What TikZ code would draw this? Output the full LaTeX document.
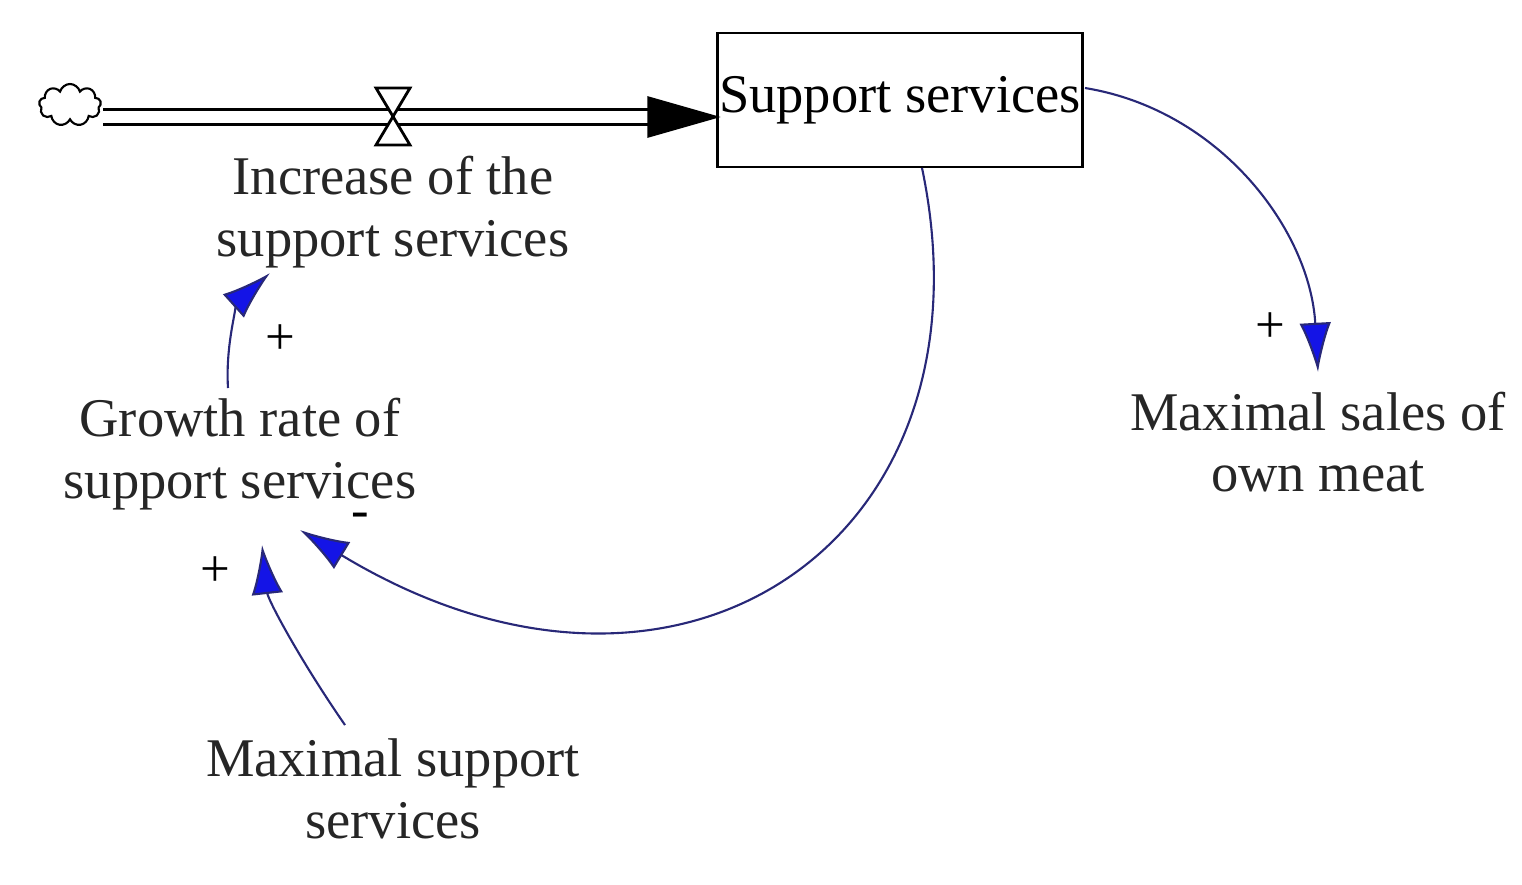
\documentclass[tikz,border=0pt]{standalone}
\usepackage{fontspec}
\setmainfont{Liberation Serif}
\usetikzlibrary{arrows.meta,shapes.symbols}
\definecolor{lnk}{RGB}{40,40,120}
\definecolor{tip}{RGB}{20,20,230}
\begin{document}
\begin{tikzpicture}[x=0.01cm,y=-0.01cm,
  lbl/.style={font=\fontsize{15.5}{17.5}\selectfont,align=center,text=black!85},
  link/.style={draw=lnk,line width=0.6pt,-{Latex[length=14pt,width=9pt,fill=tip]}},
  sgn/.style={font=\fontsize{15}{15}\selectfont}]
\useasboundingbox (0,0) rectangle (1522,884);
\node[draw,line width=0.8pt,minimum width=3.65cm,minimum height=1.34cm,inner sep=0,font=\fontsize{15.5}{17.5}\selectfont] (box) at (900,100) {Support services};
\node[cloud,draw,cloud puffs=9,minimum width=0.62cm,minimum height=0.42cm,inner sep=0,line width=0.6pt] (cl) at (70,105) {};
\coordinate (p0) at (103,117);
\coordinate (v) at (393,117);
\draw[line width=0.8pt,double distance=3.5pt] (p0) -- (650,117);
\draw[fill=black] (648,97) -- (718,117) -- (648,137) -- cycle;
\draw[fill=white,line width=0.8pt] (376,88) -- (410,88) -- (376,145) -- (410,145) -- cycle;
\node[lbl] (inc) at (393,212) {Increase of the\\support services};
\node[lbl] (gr) at (240,454) {Growth rate of\\support services};
\node[lbl] (mss) at (393,789) {Maximal support\\services};
\node[lbl] (msm) at (1318,442) {Maximal sales of\\own meat};
\draw[link] (1085,88) .. controls (1220,110) and (1310,230) .. (1318,372);
\node[sgn] at (1270,328) {+};
\draw[link] (922,168) .. controls (1000,540) and (680,760) .. (300,530);
\node[sgn] at (360,520) {-};
\draw[link] (228,388) .. controls (225,340) and (240,300) .. (270,273);
\node[sgn] at (280,340) {+};
\draw[link] (345,725) .. controls (300,660) and (268,600) .. (262,545);
\node[sgn] at (215,572) {+};
\end{tikzpicture}
\end{document}
